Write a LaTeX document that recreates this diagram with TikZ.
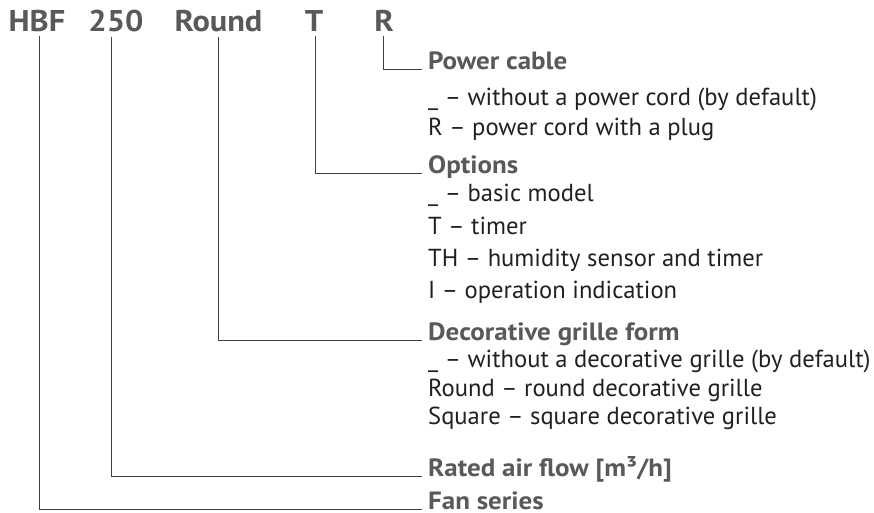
\documentclass[tikz,border=0pt]{standalone}
\usepackage{fontspec}
\setmainfont{PT Sans}
\newfontfamily\widebold[FakeStretch=1.08]{PT Sans Bold}
\usetikzlibrary{positioning}
\definecolor{codegray}{HTML}{595959}
\definecolor{textblack}{HTML}{231F20}
\definecolor{linegray}{HTML}{404040}

\begin{document}
\begin{tikzpicture}[x=1pt, y=-1pt,
    code/.style={font=\fontsize{30}{32}\widebold, text=codegray,
        inner xsep=0pt, inner ysep=4pt, anchor=base},
    lbl/.style={font=\fontsize{25}{27}\widebold, text=codegray,
        inner xsep=6pt, inner ysep=0pt, anchor=base west},
    item/.style={font=\fontsize{24.6}{27}\selectfont, text=textblack,
        inner sep=0pt, anchor=base west},
    lead/.style={draw=linegray, line width=1pt}]
    \useasboundingbox (0,0) rectangle (874,513);

    % the type code
    \node[code] (hbf) at (37,32) {HBF};
    \node[code] (flow) at (116,32) {250};
    \node[code] (grille) at (218.5,32) {Round};
    \node[code] (opt) at (314,32) {T};
    \node[code] (cable) at (384,32) {R};

    % labels
    \node[lbl] (cableL) at (422,70) {Power cable};
    \node[item] (cable1) at (428,106) {\_ -- without a power cord (by default)};
    \node[item] (cable2) at (428,136) {R -- power cord with a plug};

    \node[lbl] (optL) at (422,173) {Options};
    \node[item] (opt1) at (428,201) {\_ -- basic model};
    \node[item] (opt2) at (428,234) {T -- timer};
    \node[item] (opt3) at (428,266) {TH -- humidity sensor and timer};
    \node[item] (opt4) at (428,298) {I -- operation indication};

    \node[lbl] (grilleL) at (422,340) {Decorative grille form};
    \node[item] (grille1) at (428,367) {\_ -- without a decorative grille (by default)};
    \node[item] (grille2) at (428,396) {Round -- round decorative grille};
    \node[item] (grille3) at (428,424) {Square -- square decorative grille};

    \node[lbl] (flowL) at (422,476) {Rated air flow [m³/h]};
    \node[lbl] (hbfL) at (422,509) {Fan series};

    % leaders
    \draw[lead] ([xshift=-1pt]cable.south) |- (cableL.base west);
    \draw[lead] ([xshift=1pt]opt.south) |- (optL.base west);
    \draw[lead] (grille.south) |- (grilleL.base west);
    \draw[lead] ([xshift=-5pt]flow.south) |- (flowL.base west);
    \draw[lead] ([xshift=2pt]hbf.south) |- (hbfL.base west);
\end{tikzpicture}
\end{document}
